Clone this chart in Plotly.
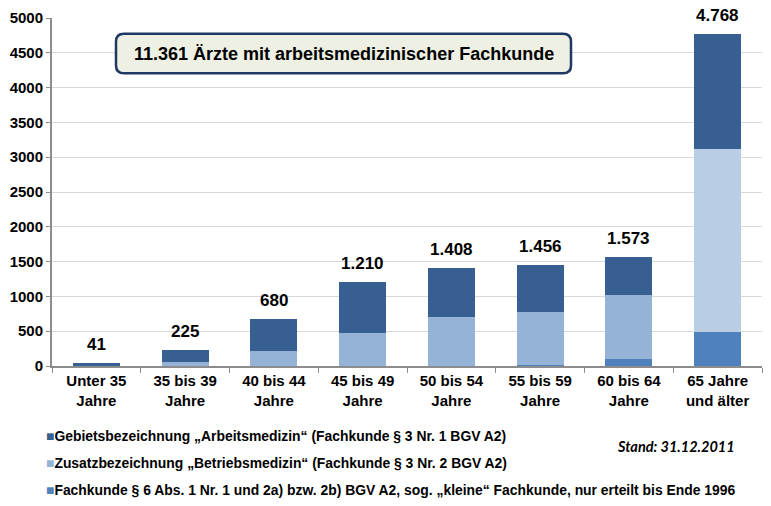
import plotly.graph_objects as go

categories = ["Unter 35<br>Jahre", "35 bis 39<br>Jahre", "40 bis 44<br>Jahre", "45 bis 49<br>Jahre",
              "50 bis 54<br>Jahre", "55 bis 59<br>Jahre", "60 bis 64<br>Jahre", "65 Jahre<br>und älter"]
kleine = [0, 0, 0, 0, 5, 20, 105, 490]
betriebsmedizin = [5, 55, 210, 470, 700, 760, 915, 2630]
arbeitsmedizin = [36, 170, 470, 740, 703, 676, 553, 1648]
totals = [41, 225, 680, 1210, 1408, 1456, 1573, 4768]

name_arbeit = "Gebietsbezeichnung „Arbeitsmedizin“ (Fachkunde § 3 Nr. 1 BGV A2)"
name_betrieb = "Zusatzbezeichnung „Betriebsmedizin“ (Fachkunde § 3 Nr. 2 BGV A2)"
name_kleine = "Fachkunde § 6 Abs. 1 Nr. 1 und 2a) bzw. 2b) BGV A2, sog. „kleine“ Fachkunde, nur erteilt bis Ende 1996"
title_text = "11.361 Ärzte mit arbeitsmedizinischer Fachkunde"
stand_text = "Stand: 31.12.2011"

C_DARK = "#385f91"
C_MID = "#95b3d7"
C_MID_LIGHT = "#b9cde5"
C_LOW = "#4f81bd"

W, H = 771, 506
ML, MR, MT, MB = 52, 9, 14, 140
PW, PH = W - ML - MR, H - MT - MB


def px(x):
    return (x - ML) / PW


def py(y):
    return (H - MB - y) / PH


font_family = "Liberation Sans"

fig = go.Figure()
fig.add_trace(go.Bar(x=categories, y=kleine, name=name_kleine, marker=dict(color=C_LOW, line=dict(width=0)),
                     width=0.53, hoverinfo="skip"))
mid_colors = [C_MID] * (len(categories) - 1) + [C_MID_LIGHT]
fig.add_trace(go.Bar(x=categories, y=betriebsmedizin, name=name_betrieb,
                     marker=dict(color=mid_colors, line=dict(width=0)), width=0.53, hoverinfo="skip"))
fig.add_trace(go.Bar(x=categories, y=arbeitsmedizin, name=name_arbeit,
                     marker=dict(color=C_DARK, line=dict(width=0)), width=0.53, hoverinfo="skip"))

annotations = []
for c, t in zip(categories, totals):
    annotations.append(dict(x=c, y=t, xref="x", yref="y", text=f"{t:,}".replace(",", "."),
                            showarrow=False, yanchor="bottom", yshift=7,
                            font=dict(family=font_family, size=17, color="#000000", weight="bold")))

# title box (rounded rectangle)
x0, x1, y0, y1, r = 116, 571, 30, 70, 8
rx, ry = r / PW, r / PH
X0, X1, Y0, Y1 = px(x0), px(x1), py(y1), py(y0)
path = (f"M {X0+rx},{Y0} L {X1-rx},{Y0} Q {X1},{Y0} {X1},{Y0+ry} L {X1},{Y1-ry} Q {X1},{Y1} {X1-rx},{Y1} "
        f"L {X0+rx},{Y1} Q {X0},{Y1} {X0},{Y1-ry} L {X0},{Y0+ry} Q {X0},{Y0} {X0+rx},{Y0} Z")
shapes = [dict(type="path", path=path, xref="paper", yref="paper", fillcolor="#eef0e3",
               line=dict(color="#1f3864", width=2.5))]
annotations.append(dict(x=px((x0 + x1) / 2), y=py(50), xref="paper", yref="paper", text=title_text,
                        showarrow=False, xanchor="center", yanchor="middle",
                        font=dict(family=font_family, size=18, color="#000000", weight="bold")))

# legend
legend_items = [(name_arbeit, C_DARK, 437), (name_betrieb, C_MID, 464), (name_kleine, C_LOW, 491)]
for txt, col, yy in legend_items:
    annotations.append(dict(x=px(44), y=py(yy), xref="paper", yref="paper",
                            text=f'<span style="color:{col}">■</span>{txt}',
                            showarrow=False, xanchor="left", yanchor="middle",
                            font=dict(family=font_family, size=13.9, color="#000000", weight="bold")))
annotations.append(dict(x=px(737), y=py(447), xref="paper", yref="paper", text=stand_text,
                        showarrow=False, xanchor="right", yanchor="middle",
                        font=dict(family="Lato", size=14.5, color="#000000",
                                  style="italic", weight="bold")))

fig.update_layout(
    width=W, height=H, barmode="stack", showlegend=False,
    margin=dict(l=ML, r=MR, t=MT, b=MB),
    paper_bgcolor="white", plot_bgcolor="white",
    bargap=0.47,
    annotations=annotations, shapes=shapes,
    xaxis=dict(showline=True, linecolor="#8c8c8c", linewidth=2, ticks="outside", tickson="boundaries",
               ticklen=5, tickcolor="#8c8c8c", tickwidth=1, showgrid=False,
               tickfont=dict(family=font_family, size=15, color="#000000", weight="bold")),
    yaxis=dict(range=[0, 5000], dtick=500, tickformat="d", showline=True, linecolor="#8c8c8c",
               linewidth=2, ticks="outside", ticklen=4, tickcolor="#8c8c8c", showgrid=True,
               gridcolor="#d9d9d9", gridwidth=1, zeroline=False,
               tickfont=dict(family=font_family, size=15, color="#000000", weight="bold")),
)

fig.write_html("out.html", config={"displayModeBar": False})
